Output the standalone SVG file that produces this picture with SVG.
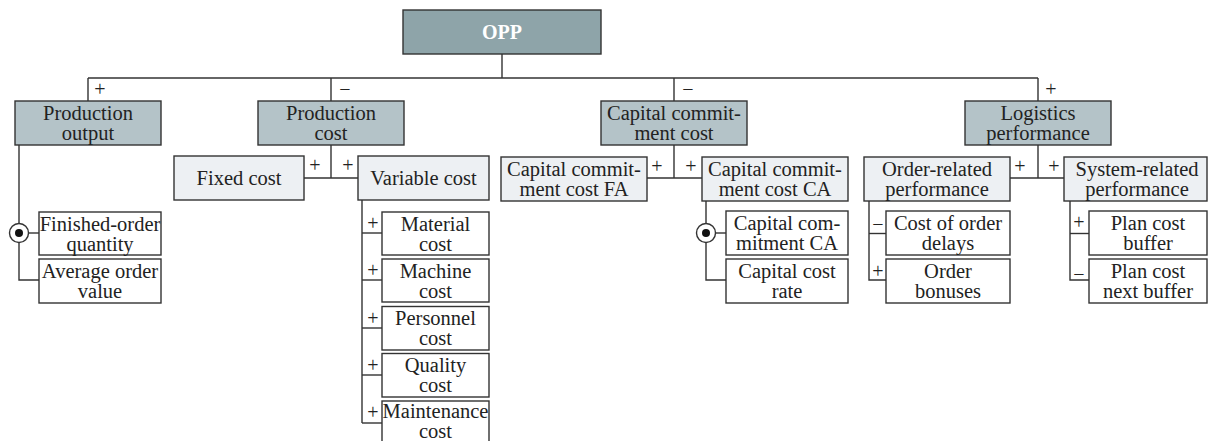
<svg xmlns="http://www.w3.org/2000/svg" width="1208" height="441" viewBox="0 0 1208 441">
<style>
rect{stroke:#333;stroke-width:1.4}
rect.bg{stroke:none;fill:#fff}
.top{fill:#8ea4a9}
.l1{fill:#b4c3c8}
.l2{fill:#edf0f3}
.lf{fill:#ffffff}
text{font-family:"Liberation Serif","Times New Roman",serif;font-size:20.5px;fill:#222;text-anchor:middle}
.opp{fill:#ffffff;font-weight:bold;font-size:20px}
.sg{font-size:20px;fill:#222}
#connectors line,#connectors polyline{stroke:#333;stroke-width:1.4;fill:none}
.knot{fill:#fff;stroke:#333;stroke-width:1.4}
.dot{fill:#111}
</style>
<rect class="bg" x="0" y="0" width="1208" height="441"/>
<g id="connectors">
  <line x1="502" y1="54" x2="502" y2="78"/>
  <line x1="88" y1="78" x2="1038" y2="78"/>
  <line x1="88" y1="78" x2="88" y2="101"/>
  <line x1="331" y1="78" x2="331" y2="101"/>
  <line x1="674" y1="78" x2="674" y2="101"/>
  <line x1="1038" y1="78" x2="1038" y2="101"/>
  <polyline points="19,145 19,280 39,280"/>
  <line x1="28.5" y1="233" x2="39" y2="233"/>
  <line x1="331" y1="145" x2="331" y2="178"/>
  <line x1="304" y1="178" x2="358" y2="178"/>
  <line x1="362" y1="200" x2="362" y2="423"/>
  <line x1="362" y1="233" x2="382" y2="233"/>
  <line x1="362" y1="280" x2="382" y2="280"/>
  <line x1="362" y1="328" x2="382" y2="328"/>
  <line x1="362" y1="375" x2="382" y2="375"/>
  <line x1="362" y1="423" x2="382" y2="423"/>
  <line x1="674" y1="145" x2="674" y2="178"/>
  <line x1="647" y1="178" x2="702" y2="178"/>
  <polyline points="706,201 706,280 726,280"/>
  <line x1="715.5" y1="233" x2="726" y2="233"/>
  <line x1="1038" y1="145" x2="1038" y2="178"/>
  <line x1="1010" y1="178" x2="1064" y2="178"/>
  <polyline points="869,201 869,280 886,280"/>
  <line x1="869" y1="233.5" x2="886" y2="233.5"/>
  <polyline points="1070,201 1070,280 1089,280"/>
  <line x1="1070" y1="233.5" x2="1089" y2="233.5"/>
  <circle class="knot" cx="19" cy="233" r="9.5"/>
  <circle class="dot" cx="19" cy="233" r="4"/>
  <circle class="knot" cx="706" cy="233" r="9.5"/>
  <circle class="dot" cx="706" cy="233" r="4"/>
  <text class="sg" x="100" y="96">+</text>
  <text class="sg" x="345" y="96">−</text>
  <text class="sg" x="688" y="96">−</text>
  <text class="sg" x="1051" y="96">+</text>
  <text class="sg" x="315" y="172">+</text>
  <text class="sg" x="348" y="172">+</text>
  <text class="sg" x="657" y="173">+</text>
  <text class="sg" x="691" y="173">+</text>
  <text class="sg" x="1020" y="173">+</text>
  <text class="sg" x="1054" y="173">+</text>
  <text class="sg" x="373" y="230">+</text>
  <text class="sg" x="373" y="277">+</text>
  <text class="sg" x="373" y="325">+</text>
  <text class="sg" x="373" y="372">+</text>
  <text class="sg" x="373" y="419">+</text>
  <text class="sg" x="878" y="231">−</text>
  <text class="sg" x="878" y="278">+</text>
  <text class="sg" x="1079" y="229">+</text>
  <text class="sg" x="1079" y="281">−</text>
</g>
<g id="opp"><rect class="top" x="403" y="10" width="198" height="44"/><text class="opp" x="502" y="39">OPP</text></g>
<g id="production-output"><rect class="l1" x="15" y="101" width="146" height="44"/><text x="88" y="120">Production</text><text x="88" y="140">output</text></g>
<g id="production-cost"><rect class="l1" x="258" y="101" width="146" height="44"/><text x="331" y="120">Production</text><text x="331" y="140">cost</text></g>
<g id="capital-commitment-cost"><rect class="l1" x="601" y="101" width="146" height="44"/><text x="674" y="120">Capital commit-</text><text x="674" y="140">ment cost</text></g>
<g id="logistics-performance"><rect class="l1" x="965" y="101" width="146" height="44"/><text x="1038" y="120">Logistics</text><text x="1038" y="140">performance</text></g>
<g id="fixed-cost"><rect class="l2" x="174" y="156" width="130" height="44"/><text x="239" y="185">Fixed cost</text></g>
<g id="variable-cost"><rect class="l2" x="358" y="156" width="131" height="44"/><text x="423.5" y="185">Variable cost</text></g>
<g id="cc-fa"><rect class="l2" x="501" y="157" width="146" height="44"/><text x="574" y="176">Capital commit-</text><text x="574" y="196">ment cost FA</text></g>
<g id="cc-ca"><rect class="l2" x="702" y="157" width="146" height="44"/><text x="775" y="176">Capital commit-</text><text x="775" y="196">ment cost CA</text></g>
<g id="order-related"><rect class="l2" x="864" y="157" width="146" height="44"/><text x="937" y="176">Order-related</text><text x="937" y="196">performance</text></g>
<g id="system-related"><rect class="l2" x="1064" y="157" width="143" height="44"/><text x="1137" y="176">System-related</text><text x="1137" y="196">performance</text></g>
<g id="finished-order-quantity"><rect class="lf" x="39" y="212" width="122" height="43"/><text x="100" y="230.5">Finished-order</text><text x="100" y="250.5">quantity</text></g>
<g id="average-order-value"><rect class="lf" x="39" y="259" width="122" height="44"/><text x="100" y="277.5">Average order</text><text x="100" y="297.5">value</text></g>
<g id="material-cost"><rect class="lf" x="382" y="212" width="107" height="43"/><text x="435.5" y="230.5">Material</text><text x="435.5" y="250.5">cost</text></g>
<g id="machine-cost"><rect class="lf" x="382" y="259" width="107" height="43"/><text x="435.5" y="277.5">Machine</text><text x="435.5" y="297.5">cost</text></g>
<g id="personnel-cost"><rect class="lf" x="382" y="306.5" width="107" height="43.5"/><text x="435.5" y="325">Personnel</text><text x="435.5" y="345">cost</text></g>
<g id="quality-cost"><rect class="lf" x="382" y="353.5" width="107" height="43.5"/><text x="435.5" y="372">Quality</text><text x="435.5" y="392">cost</text></g>
<g id="maintenance-cost"><rect class="lf" x="382" y="401" width="107" height="44"/><text x="435.5" y="417.5">Maintenance</text><text x="435.5" y="437.5">cost</text></g>
<g id="capital-commitment-ca"><rect class="lf" x="726" y="211" width="122" height="44"/><text x="787" y="230">Capital com-</text><text x="787" y="250">mitment CA</text></g>
<g id="capital-cost-rate"><rect class="lf" x="726" y="259" width="122" height="44"/><text x="787" y="277.5">Capital cost</text><text x="787" y="297.5">rate</text></g>
<g id="cost-of-order-delays"><rect class="lf" x="886" y="211" width="124" height="44"/><text x="948" y="230">Cost of order</text><text x="948" y="250">delays</text></g>
<g id="order-bonuses"><rect class="lf" x="886" y="259" width="124" height="44"/><text x="948" y="277.5">Order</text><text x="948" y="297.5">bonuses</text></g>
<g id="plan-cost-buffer"><rect class="lf" x="1089" y="211" width="118" height="44"/><text x="1148" y="230">Plan cost</text><text x="1148" y="250">buffer</text></g>
<g id="plan-cost-next-buffer"><rect class="lf" x="1089" y="259" width="118" height="44"/><text x="1148" y="277.5">Plan cost</text><text x="1148" y="297.5">next buffer</text></g>
</svg>
